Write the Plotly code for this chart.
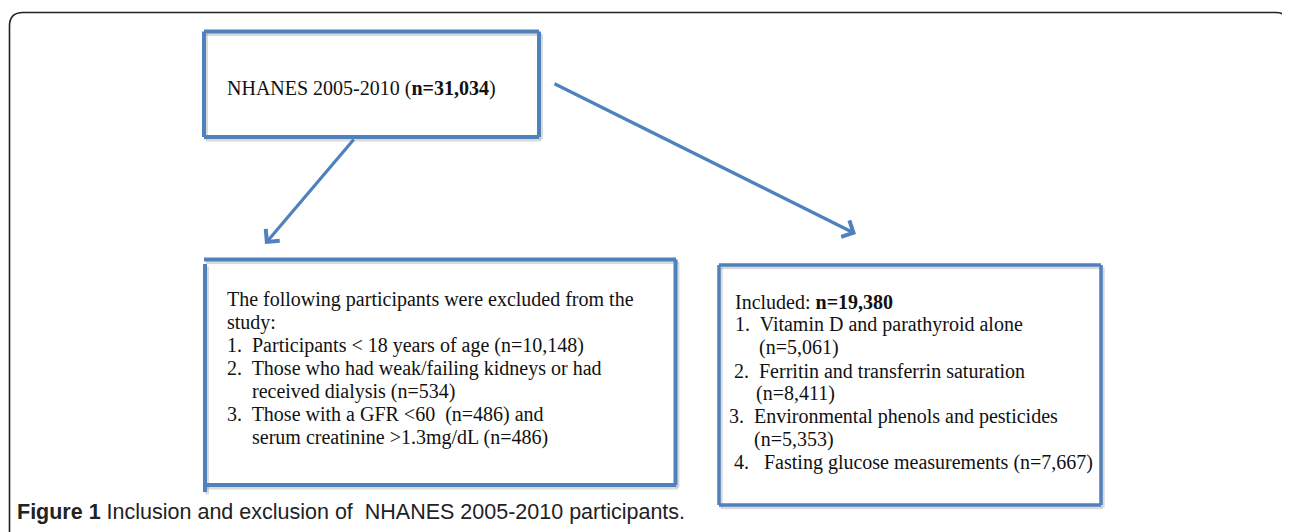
import plotly.graph_objects as go

# ---- text content ----
top_label = "NHANES 2005-2010 (<b>n=31,034</b>)"
excluded_lines = [
    "The following participants were excluded from the",
    "study:",
    "1.  Participants < 18 years of age (n=10,148)",
    "2.  Those who had weak/failing kidneys or had",
    "received dialysis (n=534)",
    "3.  Those with a GFR <60  (n=486) and",
    "serum creatinine >1.3mg/dL (n=486)",
]
included_lines = [
    "Included: <b>n=19,380</b>",
    "1.  Vitamin D and parathyroid alone",
    "(n=5,061)",
    "2.  Ferritin and transferrin saturation",
    "(n=8,411)",
    "3.  Environmental phenols and pesticides",
    "(n=5,353)",
    "4.   Fasting glucose measurements (n=7,667)",
]
caption = "<b>Figure 1</b> Inclusion and exclusion of  NHANES 2005-2010 participants."

# ---- layout constants (pixels in page coordinates; body has an 8px margin) ----
W, H = 1290, 532
OFF = 8
BLUE = "#4F81BD"
SHADOW = "rgba(150,150,150,0.35)"
SERIF = "Liberation Serif, Times New Roman, serif"
FS = 20

excl_x = [225, 225, 225, 225, 250, 225, 250]
excl_y0, excl_dy = 299, 23.0
incl_x = [733, 733, 757, 732, 754, 727, 752, 732]
incl_y0, incl_dy = 302, 22.9

fig = go.Figure()
fig.add_trace(go.Scatter(x=[OFF, W], y=[OFF, H], mode="markers",
                         marker=dict(opacity=0), hoverinfo="skip", showlegend=False))

shapes = []
# outer frame (rounded top corners, open bottom)
shapes.append(dict(type="path", xref="x", yref="y",
                   path="M 9.5,540 L 9.5,26 Q 9.5,12.5 23,12.5 L 1276,12.5 Q 1288.5,12.5 1288.5,26 L 1288.5,540",
                   line=dict(color="#222222", width=1.6)))

def box_lines(segs, width=4):
    for (x0, y0, x1, y1) in segs:
        shapes.append(dict(type="line", xref="x", yref="y", x0=x0 + 2, y0=y0 + 2.5, x1=x1 + 2, y1=y1 + 2.5,
                           line=dict(color=SHADOW, width=width), layer="below"))
    for (x0, y0, x1, y1) in segs:
        shapes.append(dict(type="line", xref="x", yref="y", x0=x0, y0=y0, x1=x1, y1=y1,
                           line=dict(color=BLUE, width=width)))

# top box
box_lines([(204, 31.5, 539, 31.5), (539, 31.5, 539, 137), (539, 137, 204, 137), (204, 137, 204, 31.5)])
# left (excluded) box
box_lines([(204, 259.5, 676, 259.5), (675.5, 259.5, 675.5, 485), (676, 485, 204, 485), (205, 264, 205, 492)])
# right (included) box
box_lines([(719, 265, 1101, 265), (1101, 265, 1101, 505), (1101, 505, 719, 505), (719, 505, 719, 265)], width=3.5)

fig.update_layout(shapes=shapes)

ann = []
ann.append(dict(x=225, y=88, xref="x", yref="y", text=top_label, showarrow=False,
                xanchor="left", yanchor="middle", font=dict(family=SERIF, size=FS, color="#111111")))
for i, t in enumerate(excluded_lines):
    ann.append(dict(x=excl_x[i], y=excl_y0 + i * excl_dy, xref="x", yref="y", text=t, showarrow=False,
                    xanchor="left", yanchor="middle", font=dict(family=SERIF, size=FS, color="#111111")))
for i, t in enumerate(included_lines):
    ann.append(dict(x=incl_x[i], y=incl_y0 + i * incl_dy, xref="x", yref="y", text=t, showarrow=False,
                    xanchor="left", yanchor="middle", font=dict(family=SERIF, size=FS, color="#111111")))

# arrows
for (x0, y0, x1, y1) in [(355, 138, 265, 244), (553, 83, 856, 234)]:
    ann.append(dict(x=x1, y=y1, ax=x0, ay=y0, xref="x", yref="y", axref="x", ayref="y",
                    text="", showarrow=True, arrowhead=4, arrowsize=1.1, arrowwidth=3.2,
                    arrowcolor=BLUE, standoff=0))

ann.append(dict(x=15, y=512, xref="x", yref="y", text=caption, showarrow=False,
                xanchor="left", yanchor="middle",
                font=dict(family="Liberation Sans, Arial, sans-serif", size=21.5, color="#222222")))
fig.update_layout(annotations=ann)

fig.update_layout(
    width=W - OFF, height=H - OFF, margin=dict(l=0, r=0, t=0, b=0),
    paper_bgcolor="white", plot_bgcolor="white",
    xaxis=dict(range=[OFF, W], visible=False, fixedrange=True),
    yaxis=dict(range=[H, OFF], visible=False, fixedrange=True),
    showlegend=False,
)
fig.write_html("out.html")
